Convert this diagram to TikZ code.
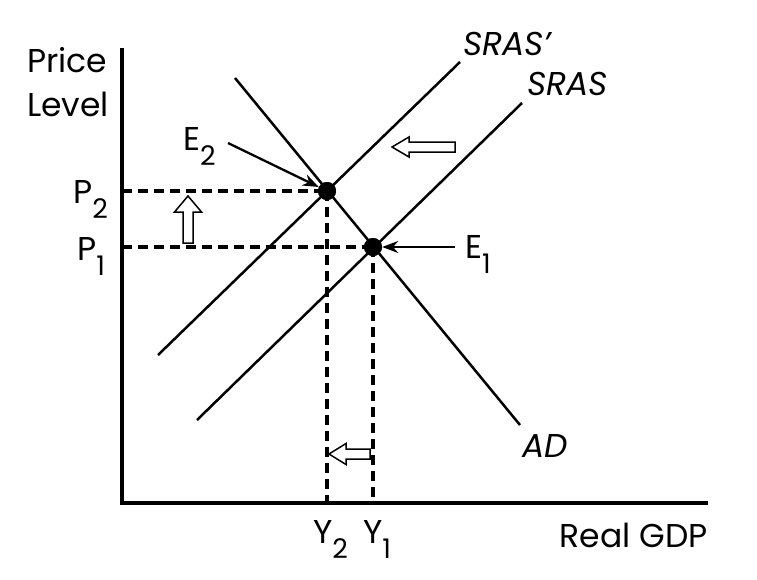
\documentclass[tikz,border=0pt]{standalone}
\usepackage{fontspec}
\setmainfont{Poppins}
\usetikzlibrary{arrows.meta}
\newcommand\lowsub[1]{\raisebox{-15pt}{\fontsize{27}{27}\selectfont #1}}
\begin{document}
\begin{tikzpicture}[x=1pt,y=-1pt,
  lbl/.style={font=\fontsize{33}{36}\selectfont, inner sep=0pt, anchor=base west},
  ital/.style={font=\fontsize{33}{36}\selectfont\itshape, inner sep=0pt, anchor=base west},
  curve/.style={line width=2.5pt},
  axis/.style={line width=3.3pt},
  guide/.style={line width=3.2pt, dash pattern=on 10pt off 6pt},
  dot/.style={circle, fill=black, minimum size=18pt, inner sep=0pt},
  hollow/.style={draw, fill=white, line width=1.5pt, line join=miter},
  pointer/.style={line width=2.3pt, -{Stealth[length=16pt,width=12pt]}}
]
\useasboundingbox (0,0) rectangle (757,579);

% axes
\coordinate (origin) at (122,503);
\coordinate (ytop) at (122,48);
\coordinate (xend) at (708,503);
\draw[axis] (ytop) -- (origin) -- (xend);

% curves
\coordinate (ad1) at (235,78);
\coordinate (ad2) at (520,425);
\coordinate (srasp1) at (158,355);
\coordinate (srasp2) at (460,62);
\coordinate (sras1) at (197,420);
\coordinate (sras2) at (522,103);

% equilibrium dots
\node[dot] (E2) at (327,191) {};
\node[dot] (E1) at (373,247) {};

% guide coordinates
\coordinate (p2a) at (122,191);
\coordinate (p1a) at (122,247);
\coordinate (y2a) at (327,503);
\coordinate (y1a) at (373,503);

\draw[guide] (p2a) -- (E2.center);
\draw[guide] (p1a) -- (E1.center);
\draw[guide] (E2.center) -- (y2a);
\draw[guide] (E1.center) -- (y1a);

\draw[curve] (ad1) -- (ad2);
\draw[curve] (srasp1) -- (srasp2);
\draw[curve] (sras1) -- (sras2);

\node[dot] at (E2) {};
\node[dot] at (E1) {};

% labels
\node[lbl] (price) at (27,72) {Price};
\node[lbl] (level) at (27,116) {Level};
\node[lbl] (P2) at (73,203) {P\lowsub{2}};
\node[lbl] (P1) at (77,260) {P\lowsub{1}};
\node[lbl] (E2l) at (183,150) {E\lowsub{2}};
\node[lbl] (E1l) at (465,258) {E\lowsub{1}};
\node[lbl] (Y2) at (313,543) {Y\lowsub{2}};
\node[lbl] (Y1) at (363,543) {Y\lowsub{1}};
\node[lbl, anchor=base east] (xlabel) at (708,547) {Real GDP};
\node[ital] (ADl) at (522,457) {AD};
\node[ital] (SRASp) at (463,55) {SRAS'};
\node[ital] (SRASl) at (527,95) {SRAS};

% pointers
\coordinate (e2from) at (228,143);
\coordinate (e1from) at (455,247);
\draw[pointer] (e2from) -- (E2);
\draw[pointer] (e1from) -- (E1);

% hollow shift arrows
\draw[hollow] (183,243) -- (193,243) -- (193,212) -- (201.5,212) -- (188,196) -- (174.5,212) -- (183,212) -- cycle;
\draw[hollow] (392,147) -- (409,137) -- (409,142) -- (455,142) -- (455,152) -- (409,152) -- (409,157) -- cycle;
\draw[hollow] (329,454) -- (346,443.5) -- (346,449) -- (370,449) -- (370,459) -- (346,459) -- (346,464.5) -- cycle;
\end{tikzpicture}
\end{document}
